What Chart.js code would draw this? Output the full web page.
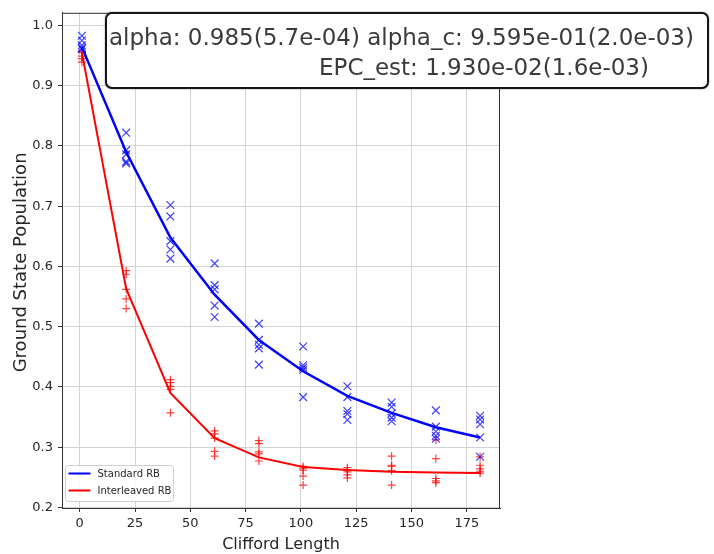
<!DOCTYPE html>
<html>
<head>
<meta charset="utf-8">
<script src="https://cdn.jsdelivr.net/npm/chart.js@4.4.0/dist/chart.umd.min.js"></script>
<style>
  html, body { margin: 0; padding: 0; background: #fff; }
  #wrap { position: relative; width: 714px; height: 554px; overflow: hidden; }
  #fitbox {
    position: absolute; left: 105px; top: 12px; width: 600px; height: 73px;
    border: 2.5px solid #151515; border-radius: 7px; background: #fff;
    font-family: 'DejaVu Sans', sans-serif; font-size: 23px; color: #3a3a3a;
    box-shadow: 0 0 1.5px rgba(0,0,0,0.6);
  }
  #fitbox span { position: absolute; white-space: pre; line-height: 28px; }
</style>
</head>
<body>
<div id="wrap">
  <canvas id="rb" width="714" height="554"></canvas>
  <div id="fitbox">
    <span id="fitLine1" style="left:2px; top:9px;"></span>
    <span id="fitLine2" style="left:212px; top:39px;"></span>
  </div>
</div>
<script>
// Sequence lengths (Clifford count) shared by both experiments
const lengths = [1, 21, 41, 61, 81, 101, 121, 141, 161, 181];

// Measured ground-state population per seed at each length
const standardRuns = [
  [0.983, 0.975, 0.967, 0.963, 0.961],
  [0.822, 0.793, 0.786, 0.774, 0.771],
  [0.702, 0.683, 0.642, 0.628, 0.613],
  [0.605, 0.569, 0.562, 0.535, 0.516],
  [0.505, 0.478, 0.470, 0.464, 0.437],
  [0.467, 0.436, 0.432, 0.428, 0.383],
  [0.401, 0.383, 0.360, 0.355, 0.345],
  [0.374, 0.367, 0.356, 0.349, 0.343],
  [0.361, 0.334, 0.326, 0.319, 0.314],
  [0.352, 0.346, 0.338, 0.316, 0.284]
];
const interleavedRuns = [
  [0.957, 0.955, 0.949, 0.945, 0.939],
  [0.593, 0.587, 0.562, 0.546, 0.530],
  [0.412, 0.407, 0.401, 0.396, 0.357],
  [0.327, 0.322, 0.315, 0.293, 0.285],
  [0.311, 0.306, 0.292, 0.289, 0.277],
  [0.268, 0.265, 0.262, 0.252, 0.237],
  [0.266, 0.262, 0.259, 0.254, 0.249],
  [0.285, 0.270, 0.268, 0.261, 0.237],
  [0.312, 0.281, 0.248, 0.244, 0.241],
  [0.284, 0.270, 0.264, 0.260, 0.257]
];

// Fitted decay curves evaluated at each length
const standardFit    = [0.964, 0.790, 0.648, 0.553, 0.478, 0.426, 0.385, 0.357, 0.333, 0.316];
const interleavedFit = [0.955, 0.563, 0.390, 0.315, 0.283, 0.267, 0.262, 0.259, 0.258, 0.257];

// Axis ticks and text
const xTicks = [0, 25, 50, 75, 100, 125, 150, 175];
const yTicks = [0.2, 0.3, 0.4, 0.5, 0.6, 0.7, 0.8, 0.9, 1.0];
const seriesNames = ['Standard RB', 'Interleaved RB'];
const xTitle = 'Clifford Length';
const yTitle = 'Ground State Population';
const fitSummary = [
  'alpha: 0.985(5.7e-04) alpha_c: 9.595e-01(2.0e-03)',
  'EPC_est: 1.930e-02(1.6e-03)'
];

document.getElementById('fitLine1').textContent = fitSummary[0];
document.getElementById('fitLine2').textContent = fitSummary[1];

const FONT = "'DejaVu Sans', sans-serif";
const TEXT = '#262626';

const toPoints = runs => lengths.flatMap((L, i) => runs[i].map(v => ({ x: L, y: v })));
const toCurve = fit => lengths.map((L, i) => ({ x: L, y: fit[i] }));

// Frame, axis titles and legend drawn on top of the chart
const decorations = {
  id: 'decorations',
  afterDraw(chart) {
    const { ctx, chartArea: a } = chart;
    ctx.save();
    // top and right spines
    ctx.strokeStyle = '#333';
    ctx.lineWidth = 1;
    ctx.beginPath();
    ctx.moveTo(a.left, a.top + 0.5);
    ctx.lineTo(a.right - 0.5, a.top + 0.5);
    ctx.lineTo(a.right - 0.5, a.bottom);
    ctx.stroke();

    // axis titles
    ctx.fillStyle = TEXT;
    ctx.font = '16px ' + FONT;
    ctx.textAlign = 'center';
    ctx.textBaseline = 'alphabetic';
    ctx.fillText(xTitle, (a.left + a.right) / 2, 549);
    ctx.font = '18px ' + FONT;
    ctx.translate(26, (a.top + a.bottom) / 2 + 2);
    ctx.rotate(-Math.PI / 2);
    ctx.fillText(yTitle, 0, 0);
    ctx.setTransform(1, 0, 0, 1, 0, 0);

    // legend (lower left, inside the plot)
    const lines = chart.data.datasets.filter(d => d.type === 'line');
    const bx = 65.5, by = 465.5, bw = 108, bh = 36;
    ctx.beginPath();
    ctx.roundRect(bx, by, bw, bh, 3);
    ctx.fillStyle = 'rgba(255,255,255,0.85)';
    ctx.fill();
    ctx.strokeStyle = '#cfcfcf';
    ctx.lineWidth = 1;
    ctx.stroke();
    ctx.font = '10px ' + FONT;
    ctx.textAlign = 'left';
    ctx.textBaseline = 'middle';
    lines.forEach((d, i) => {
      const y = by + 8 + i * 17;
      ctx.strokeStyle = d.borderColor;
      ctx.lineWidth = 2;
      ctx.beginPath();
      ctx.moveTo(bx + 3, y);
      ctx.lineTo(bx + 25, y);
      ctx.stroke();
      ctx.fillStyle = TEXT;
      ctx.fillText(d.label, bx + 32, y + 0.5);
    });
    ctx.restore();
  }
};

const tickFont = { family: FONT, size: 13 };

new Chart(document.getElementById('rb'), {
  type: 'scatter',
  data: {
    datasets: [
      {
        type: 'line', label: seriesNames[0], data: toCurve(standardFit),
        borderColor: '#0000ff', borderWidth: 2.5, pointRadius: 0, tension: 0,
        fill: false, order: 0
      },
      {
        type: 'line', label: seriesNames[1], data: toCurve(interleavedFit),
        borderColor: '#ff0000', borderWidth: 2, pointRadius: 0, tension: 0,
        fill: false, order: 0
      },
      {
        label: 'standard seeds', data: toPoints(standardRuns),
        pointStyle: 'crossRot', pointRadius: 5.5, borderWidth: 1.2,
        borderColor: 'rgba(0,0,255,0.75)', backgroundColor: 'rgba(0,0,255,0.75)', order: 1
      },
      {
        label: 'interleaved seeds', data: toPoints(interleavedRuns),
        pointStyle: 'cross', pointRadius: 4, borderWidth: 1.2,
        borderColor: 'rgba(255,0,0,0.75)', backgroundColor: 'rgba(255,0,0,0.75)', order: 1
      }
    ]
  },
  options: {
    responsive: false,
    animation: false,
    devicePixelRatio: 1,
    layout: { padding: { top: 7, right: 214, left: 0, bottom: 0 } },
    plugins: { legend: { display: false }, tooltip: { enabled: false } },
    scales: {
      x: {
        type: 'linear', min: -8, max: 190,
        afterBuildTicks: s => { s.ticks = xTicks.map(v => ({ value: v })); },
        afterFit: s => { s.height = 46; },
        grid: { color: '#d3d3d3', tickColor: '#333', tickLength: 4 },
        border: { color: '#333', width: 1 },
        ticks: { font: tickFont, color: TEXT, padding: 4, maxRotation: 0, autoSkip: false,
                 callback: v => String(v) }
      },
      y: {
        type: 'linear', min: 0.199, max: 1.021,
        afterBuildTicks: s => { s.ticks = yTicks.map(v => ({ value: v })); },
        afterFit: s => { s.width = 62; },
        grid: { color: '#d3d3d3', tickColor: '#333', tickLength: 4 },
        border: { color: '#333', width: 1 },
        ticks: { font: tickFont, color: TEXT, padding: 5, autoSkip: false,
                 callback: v => v.toFixed(1) }
      }
    }
  },
  plugins: [decorations]
});
</script>
</body>
</html>
